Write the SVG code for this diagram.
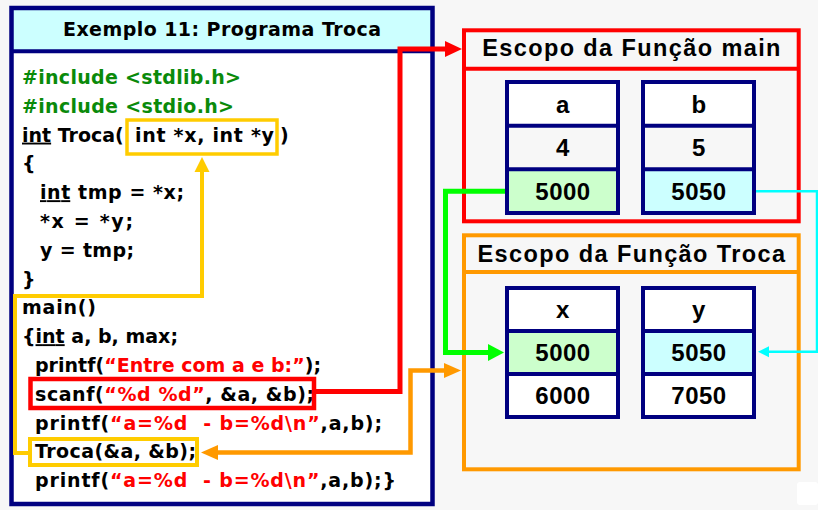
<svg xmlns="http://www.w3.org/2000/svg" width="818" height="510" viewBox="0 0 818 510">
  <style>
    .code { font-family: "DejaVu Sans", Verdana, sans-serif; font-weight: bold; font-size: 19px; fill: #000; }
    .inc { fill: #0a8a0a; }
    .str { fill: #ff0000; }
    .u { text-decoration: underline; }
    .pre { white-space: pre; }
    .scope-title { font-family: "Liberation Sans", Arial, sans-serif; font-weight: bold; font-size: 23.5px; letter-spacing: 1.4px; text-anchor: middle; fill: #000; }
    .cell-text { font-family: "Liberation Sans", Arial, sans-serif; font-weight: bold; font-size: 24px; letter-spacing: 0.5px; text-anchor: middle; fill: #000; }
    .var-frame { fill: none; stroke: #000080; stroke-width: 4; }
    .var-line { stroke: #000080; stroke-width: 4; }
    .c-white { fill: #ffffff; }
    .c-gray { fill: #f7f7f7; }
    .c-green { fill: #ccffcc; }
    .c-cyan { fill: #ccffff; }
    .wire { fill: none; stroke-linejoin: miter; stroke-linecap: butt; }
  </style>
  <defs>
    <marker id="ah-yellow" markerUnits="userSpaceOnUse" markerWidth="20" markerHeight="20" viewBox="0 -10 20 20" refX="1" refY="0" orient="auto">
      <path d="M0,-7.5 L15,0 L0,7.5 z" fill="#ffcc00"/>
    </marker>
    <marker id="ah-red" markerUnits="userSpaceOnUse" markerWidth="20" markerHeight="20" viewBox="0 -10 20 20" refX="1" refY="0" orient="auto">
      <path d="M0,-8 L17,0 L0,8 z" fill="#ff0000"/>
    </marker>
    <marker id="ah-orange" markerUnits="userSpaceOnUse" markerWidth="20" markerHeight="20" viewBox="0 -10 20 20" refX="1" refY="0" orient="auto-start-reverse">
      <path d="M0,-7.5 L17,0 L0,7.5 z" fill="#ff9900"/>
    </marker>
    <marker id="ah-green" markerUnits="userSpaceOnUse" markerWidth="20" markerHeight="20" viewBox="0 -10 20 20" refX="1" refY="0" orient="auto">
      <path d="M0,-8.5 L16,0 L0,8.5 z" fill="#00ff00"/>
    </marker>
    <marker id="ah-cyan" markerUnits="userSpaceOnUse" markerWidth="20" markerHeight="20" viewBox="0 -10 20 20" refX="1" refY="0" orient="auto">
      <path d="M0,-5.5 L11,0 L0,5.5 z" fill="#00ffff"/>
    </marker>
  </defs>

  <!-- page background -->
  <rect x="0" y="0" width="818" height="510" fill="#f7f7f7"/>
  <rect x="797" y="482" width="21" height="23" rx="3" fill="#ffffff"/>

  <!-- source code listing -->
  <g id="code-panel">
    <rect x="11.5" y="8" width="421" height="496" fill="#ffffff"/>
    <rect x="11.5" y="8" width="421" height="43.3" fill="#ccffff"/>
    <line x1="11.5" y1="51.3" x2="432.5" y2="51.3" stroke="#000080" stroke-width="4"/>
    <rect x="11.5" y="8" width="421" height="496" fill="none" stroke="#000080" stroke-width="4.5"/>
    <text class="code" x="222" y="35.5" text-anchor="middle" textLength="318">Exemplo 11: Programa Troca</text>

    <text class="code inc" x="22" y="84" textLength="219">#include &lt;stdlib.h&gt;</text>
    <text class="code inc" x="22" y="112.8" textLength="212">#include &lt;stdio.h&gt;</text>
    <text class="code" x="22" y="141.6"><tspan class="u">int</tspan> Troca(</text>
    <text class="code" x="135" y="141.6" textLength="139">int *x, int *y</text>
    <text class="code" x="280" y="141.6">)</text>
    <text class="code" x="22" y="170.4">{</text>
    <text class="code" x="40" y="199.2" textLength="144"><tspan class="u">int</tspan> tmp = *x;</text>
    <text class="code" x="40" y="228" textLength="93">*x = *y;</text>
    <text class="code" x="40" y="256.8" textLength="94">y = tmp;</text>
    <text class="code" x="22" y="285.6">}</text>
    <text class="code" x="22" y="314.4" textLength="74">main()</text>
    <text class="code" x="22" y="343.2" textLength="156">{<tspan class="u">int</tspan> a, b, max;</text>
    <text class="code" x="35" y="372" textLength="286">printf(<tspan class="str">“Entre com a e b:”</tspan>);</text>
    <text class="code" x="35" y="400.8" textLength="279">scanf(<tspan class="str">“%d %d”</tspan>, &amp;a, &amp;b);</text>
    <text class="code pre" x="35" y="429.6" textLength="347">printf(<tspan class="str">“a=%d  - b=%d\n”</tspan>,a,b);</text>
    <text class="code" x="35" y="458.4" textLength="161">Troca(&amp;a, &amp;b);</text>
    <text class="code pre" x="35" y="487.2" textLength="361">printf(<tspan class="str">“a=%d  - b=%d\n”</tspan>,a,b);}</text>
  </g>

  <!-- highlighted code fragments -->
  <g id="highlights" fill="none">
    <rect x="127" y="120" width="150" height="34" stroke="#ffcc00" stroke-width="3.5"/>
    <rect x="30.5" y="379" width="283.5" height="29" stroke="#ff0000" stroke-width="4.5"/>
    <rect x="30" y="439" width="167" height="26" stroke="#ffcc00" stroke-width="4"/>
  </g>

  <!-- scope of main -->
  <g id="scope-main">
    <rect x="464" y="30.3" width="334.7" height="191" fill="#f7f7f7" stroke="#ff0000" stroke-width="4"/>
    <line x1="464" y1="68.7" x2="798.7" y2="68.7" stroke="#ff0000" stroke-width="4"/>
    <text class="scope-title" x="632" y="55.5">Escopo da Função main</text>
  </g>

  <g id="var-a">
    <rect class="c-white" x="507" y="82" width="111" height="43.7"/>
    <rect class="c-gray" x="507" y="125.7" width="111" height="43.6"/>
    <rect class="c-green" x="507" y="169.3" width="111" height="43.7"/>
    <line class="var-line" x1="507" y1="125.7" x2="618" y2="125.7"/>
    <line class="var-line" x1="507" y1="169.3" x2="618" y2="169.3"/>
    <rect class="var-frame" x="507" y="82" width="111" height="131"/>
    <text class="cell-text" x="563" y="112.5">a</text>
    <text class="cell-text" x="563" y="156.2">4</text>
    <text class="cell-text" x="563" y="199.9">5000</text>
  </g>

  <g id="var-b">
    <rect class="c-white" x="643" y="82" width="111" height="43.7"/>
    <rect class="c-gray" x="643" y="125.7" width="111" height="43.6"/>
    <rect class="c-cyan" x="643" y="169.3" width="111" height="43.7"/>
    <line class="var-line" x1="643" y1="125.7" x2="754" y2="125.7"/>
    <line class="var-line" x1="643" y1="169.3" x2="754" y2="169.3"/>
    <rect class="var-frame" x="643" y="82" width="111" height="131"/>
    <text class="cell-text" x="699" y="112.5">b</text>
    <text class="cell-text" x="699" y="156.2">5</text>
    <text class="cell-text" x="699" y="199.9">5050</text>
  </g>

  <!-- scope of Troca -->
  <g id="scope-troca">
    <rect x="464" y="235.3" width="334.7" height="234" fill="#f7f7f7" stroke="#ff9900" stroke-width="4"/>
    <line x1="464" y1="272" x2="798.7" y2="272" stroke="#ff9900" stroke-width="4"/>
    <text class="scope-title" x="632" y="261.5">Escopo da Função Troca</text>
  </g>

  <g id="var-x">
    <rect class="c-white" x="507" y="288" width="111" height="43"/>
    <rect class="c-green" x="507" y="331" width="111" height="43"/>
    <rect class="c-white" x="507" y="374" width="111" height="43"/>
    <line class="var-line" x1="507" y1="331" x2="618" y2="331"/>
    <line class="var-line" x1="507" y1="374" x2="618" y2="374"/>
    <rect class="var-frame" x="507" y="288" width="111" height="129"/>
    <text class="cell-text" x="563" y="318">x</text>
    <text class="cell-text" x="563" y="361">5000</text>
    <text class="cell-text" x="563" y="404">6000</text>
  </g>

  <g id="var-y">
    <rect class="c-white" x="643" y="288" width="111" height="43"/>
    <rect class="c-cyan" x="643" y="331" width="111" height="43"/>
    <rect class="c-white" x="643" y="374" width="111" height="43"/>
    <line class="var-line" x1="643" y1="331" x2="754" y2="331"/>
    <line class="var-line" x1="643" y1="374" x2="754" y2="374"/>
    <rect class="var-frame" x="643" y="288" width="111" height="129"/>
    <text class="cell-text" x="699" y="318">y</text>
    <text class="cell-text" x="699" y="361">5050</text>
    <text class="cell-text" x="699" y="404">7050</text>
  </g>

  <!-- connectors -->
  <g id="connectors" class="wire">
    <path class="wire" d="M28,453 H15 V296 H202 V171" stroke="#ffcc00" stroke-width="4" marker-end="url(#ah-yellow)"/>
    <path class="wire" d="M316,391.5 H400 V49 H446" stroke="#ff0000" stroke-width="5" marker-end="url(#ah-red)"/>
    <path class="wire" d="M217,452.5 H410.5 V370.5 H445" stroke="#ff9900" stroke-width="4.5" marker-start="url(#ah-orange)" marker-end="url(#ah-orange)"/>
    <path class="wire" d="M505,191.3 H445.5 V352.5 H489" stroke="#00ff00" stroke-width="5" marker-end="url(#ah-green)"/>
    <path class="wire" d="M756,191.3 H817 V351.7 H768" stroke="#00ffff" stroke-width="2.5" marker-end="url(#ah-cyan)"/>
  </g>
</svg>
